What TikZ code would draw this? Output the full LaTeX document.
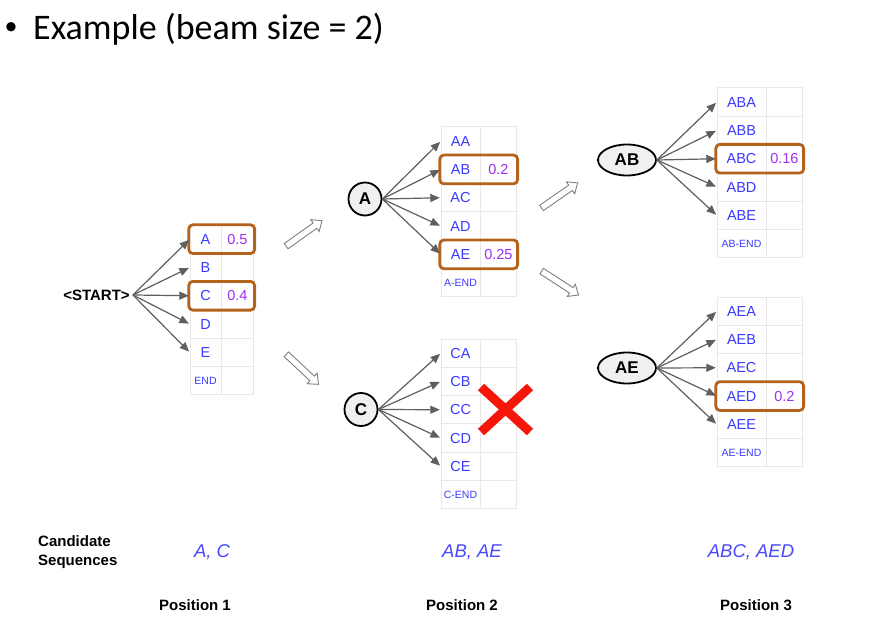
\documentclass[tikz,border=0pt]{standalone}
\usepackage{fontspec}
\setmainfont{Liberation Sans}
\newfontfamily\titlefont{Carlito}
\usetikzlibrary{arrows.meta,shapes.geometric,shapes.arrows}

\definecolor{cellblue}{RGB}{58,58,255}
\definecolor{probpurple}{RGB}{155,48,240}
\definecolor{pickbrown}{RGB}{180,98,28}
\definecolor{gridgray}{RGB}{232,232,232}
\definecolor{fangray}{RGB}{95,95,95}
\definecolor{crossred}{RGB}{245,22,10}
\definecolor{seqblue}{RGB}{72,72,255}
\definecolor{nodefill}{RGB}{240,240,240}

\newcommand\pxsize[1]{\fontsize{#1}{#1}\selectfont}
\newcommand\smalllab{\pxsize{10.5}}
\def\rowh{28.3}

\tikzset{
  gridline/.style={draw=gridgray, line width=1},
  cell/.style={inner sep=0, minimum height=\rowh, text=cellblue, font=\pxsize{14.5}},
  prob/.style={inner sep=0, minimum height=\rowh, anchor=west, text=probpurple, font=\pxsize{14.5}},
  pickbox/.style={draw=pickbrown, line width=2.8, rounded corners=4},
  fan/.style={draw=fangray, line width=1.2, -{Triangle[length=9.5,width=8]}, shorten >=1},
  seqnode/.style={draw=black, line width=1.8, fill=nodefill, inner sep=0,
                  font=\bfseries\pxsize{17}},
  hollow/.style={single arrow, draw=gray, fill=white, line width=0.9,
                 minimum height=44, inner xsep=0, inner ysep=2.8,
                 single arrow head extend=4, single arrow tip angle=80},
  cross/.style={draw=crossred, line width=9},
  seq/.style={text=seqblue, font=\itshape\pxsize{18.5}},
  poslab/.style={font=\bfseries\pxsize{15}},
}

% one table of candidate extensions: name, left, top, column widths, labels
\newcommand\beamtable[6]{%
  \pgfmathsetmacro\bRight{#2+#4+#5}%
  \pgfmathsetmacro\bMid{#2+#4}%
  \pgfmathsetmacro\bBottom{#3+6*\rowh}%
  \foreach \k in {1,...,5} \draw[gridline] (#2,#3+\k*\rowh) -- (\bRight,#3+\k*\rowh);
  \draw[gridline] (#2,#3) rectangle (\bRight,\bBottom);
  \draw[gridline] (\bMid,#3) -- (\bMid,\bBottom);
  \foreach \lab [count=\i] in {#6}
    \node[cell, minimum width=#4] (#1-\i) at (#2+#4/2, #3+\i*\rowh-\rowh/2) {\lab};
}

\begin{document}
\begin{tikzpicture}[x=1pt,y=-1pt]
\useasboundingbox (0,0) rectangle (880,628);
\fill[white] (0,0) rectangle (880,628);

% heading
\node[inner sep=0, font=\titlefont\pxsize{26}] (bullet) at (11,29) {•};
\node[anchor=base west, inner sep=0, font=\titlefont\pxsize{36}] (title) at (33,40) {Example (beam size = 2)};

% tables
\beamtable{t1}{190}{225}{31}{32}{A,B,C,D,E,{\smalllab END}}
\beamtable{tA}{441}{127}{39}{36}{AA,AB,AC,AD,AE,{\smalllab A-END}}
\beamtable{tC}{441}{339}{39}{36}{CA,CB,CC,CD,CE,{\smalllab C-END}}
\beamtable{tAB}{717}{88}{49}{36}{ABA,ABB,ABC,ABD,ABE,{\smalllab AB-END}}
\beamtable{tAE}{717}{297}{49}{36}{AEA,AEB,AEC,AED,AEE,{\smalllab AE-END}}

% kept candidates with their scores
\node[prob, minimum width=32] (p1a) at (t1-1.east) {0.5};
\node[prob, minimum width=32] (p1c) at (t1-3.east) {0.4};
\node[prob, minimum width=36] (pAB) at (tA-2.east) {0.2};
\node[prob, minimum width=36] (pAE) at (tA-5.east) {0.25};
\node[prob, minimum width=36] (pABC) at (tAB-3.east) {0.16};
\node[prob, minimum width=36] (pAED) at (tAE-4.east) {0.2};

\draw[pickbox] ([xshift=-1]t1-1.north west) rectangle ([xshift=1]p1a.south east);
\draw[pickbox] ([xshift=-1]t1-3.north west) rectangle ([xshift=1]p1c.south east);
\draw[pickbox] ([xshift=-1]tA-2.north west) rectangle ([xshift=1]pAB.south east);
\draw[pickbox] ([xshift=-1]tA-5.north west) rectangle ([xshift=1]pAE.south east);
\draw[pickbox] ([xshift=-1]tAB-3.north west) rectangle ([xshift=1]pABC.south east);
\draw[pickbox] ([xshift=-1]tAE-4.north west) rectangle ([xshift=1]pAED.south east);

% expanded prefixes
\node[inner sep=3, font=\bfseries\pxsize{15}] (start) at (96.5,295) {<START>};
\node[seqnode, circle, minimum size=33] (nA) at (365,199) {A};
\node[seqnode, circle, minimum size=33] (nC) at (361,409.5) {C};
\node[seqnode, ellipse, minimum width=58, minimum height=31] (nAB) at (627,160) {AB};
\node[seqnode, ellipse, minimum width=58, minimum height=31] (nAE) at (627,368) {AE};

\foreach \i in {1,...,5} {
  \draw[fan] (start.east) -- (t1-\i.west);
  \draw[fan] (nA.east) -- (tA-\i.west);
  \draw[fan] (nC.east) -- (tC-\i.west);
  \draw[fan] (nAB.east) -- (tAB-\i.west);
  \draw[fan] (nAE.east) -- (tAE-\i.west);
}

% step arrows between positions
\node[hollow, rotate=35.5] (h1) at (302.5,234.5) {};
\node[hollow, rotate=-43] (h2) at (301,368) {};
\node[hollow, rotate=34.8] (h3) at (558,196.5) {};
\node[hollow, rotate=-33] (h4) at (558.5,282) {};

% pruned branch
\draw[cross] (481,387) -- (530,432);
\draw[cross] (481,432) -- (530,387);

% footer
\node[anchor=west, align=left, inner sep=0, font=\bfseries\fontsize{15}{19}\selectfont] (cand) at (38,552) {Candidate\\Sequences};
\node[seq] (s1) at (212,552) {A, C};
\node[seq] (s2) at (472,552) {AB, AE};
\node[seq] (s3) at (751,552) {ABC, AED};
\node[poslab] (pos1) at (195,605) {Position 1};
\node[poslab] (pos2) at (462,605) {Position 2};
\node[poslab] (pos3) at (756,605) {Position 3};
\end{tikzpicture}
\end{document}
